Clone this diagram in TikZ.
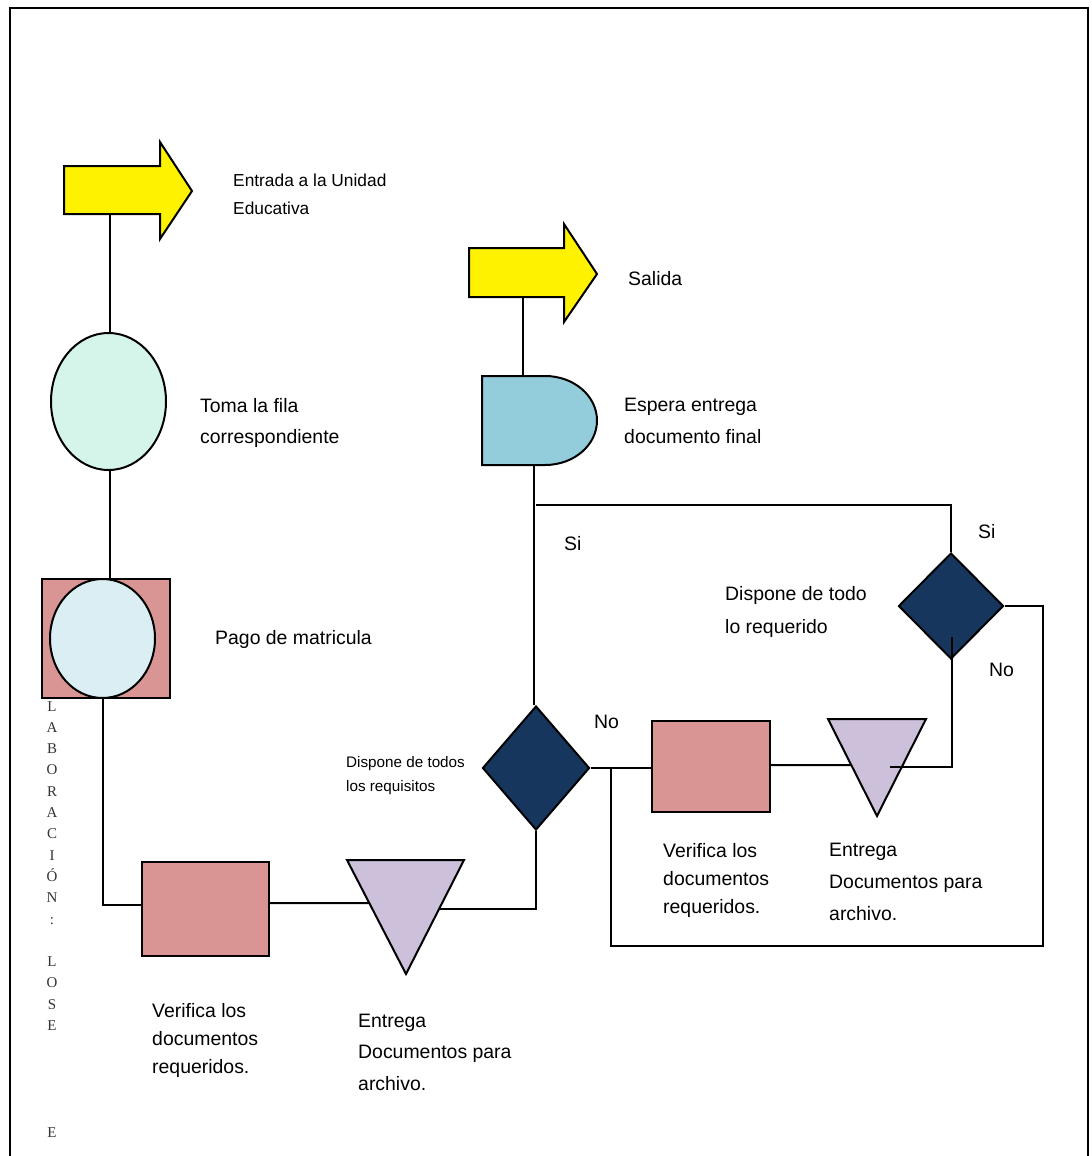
\documentclass[tikz,border=0pt]{standalone}
\usepackage{fontspec}
\setmainfont{Liberation Sans}
\newfontfamily\vserif{Liberation Serif}
\usetikzlibrary{shapes.geometric}
\pgfdeclarelayer{bg}
\pgfsetlayers{bg,main}
\definecolor{mint}{HTML}{D5F5EA}
\definecolor{pinkr}{HTML}{D99594}
\definecolor{lblue}{HTML}{DAEEF3}
\definecolor{aqua}{HTML}{93CDDC}
\definecolor{navy}{HTML}{17365D}
\definecolor{lav}{HTML}{CCC0DA}
\tikzset{
  conn/.style={line width=2bp, black},
  shp/.style={draw=black, line width=2bp, inner sep=0pt},
  lbl/.style={anchor=base west, align=left, inner sep=0pt, font=\fontsize{19.5}{28}\selectfont},
  vl/.style={anchor=base, inner sep=0pt, font=\vserif\fontsize{15}{16}\selectfont, text=black!80},
}
\begin{document}
\begin{tikzpicture}[x=1bp,y=-1bp]
\useasboundingbox (0,0) rectangle (1092,1156);
% frame
\draw[line width=2.6bp] (10,1170) -- (10,8) -- (1088,8) -- (1088,1170);

% arrows
\draw[shp, fill=yellow] (64,166) -- (160,166) -- (160,142) -- (192,191) -- (160,239) -- (160,214) -- (64,214) -- cycle;
\coordinate (a1b) at (110,214);
\draw[shp, fill=yellow] (469,248) -- (564,248) -- (564,224) -- (597,274) -- (564,322) -- (564,297) -- (469,297) -- cycle;
\coordinate (a2b) at (523,297);

% D shape
\draw[shp, fill=aqua] (482,376) -- (545,376) .. controls (574,376) and (597,396) .. (597,420.5) .. controls (597,445) and (574,465) .. (545,465) -- (482,465) -- cycle;
\coordinate (espT) at (523,376);
\coordinate (espB) at (534,465);

% nodes
\node[shp, ellipse, fill=mint, minimum width=115bp, minimum height=137bp] (toma) at (108.5,401.5) {};
\node[shp, rectangle, fill=pinkr, minimum width=128bp, minimum height=119bp] (pago) at (106,638.5) {};
\node[shp, ellipse, fill=lblue, minimum width=105bp, minimum height=119bp] (pagoe) at (102.5,638.5) {};
\node[shp, rectangle, fill=pinkr, minimum width=127bp, minimum height=94bp] (ver1) at (205.5,909) {};
\node[shp, rectangle, fill=pinkr, minimum width=118bp, minimum height=91bp] (ver2) at (711,766.5) {};
\node[shp, diamond, fill=navy, minimum width=107bp, minimum height=124bp] (d1) at (536,768) {};
\node[shp, diamond, fill=navy, minimum width=105bp, minimum height=106bp] (d2) at (951,606) {};

% triangles
\draw[shp, fill=lav] (347,860) -- (464,860) -- (406,974) -- cycle;
\coordinate (t1c) at (406,903);
\coordinate (t1r) at (420,909);
\draw[shp, fill=lav] (828,719) -- (926,719) -- (877,816) -- cycle;
\coordinate (t2c) at (877,765);
\coordinate (t2r) at (890,767);

\coordinate (j1) at (536,505);
\coordinate (j2) at (611,768);
\coordinate (jc) at (1043,946);
\coordinate (d2in) at (952,637);

% connectors
\begin{pgfonlayer}{bg}
\draw[conn] (a1b) -- (a1b |- toma.north);
\draw[conn] (toma.south -| a1b) -- (pago.north -| a1b);
\draw[conn] (pagoe.south) |- ([yshift=4bp]ver1.west);
\draw[conn] ([yshift=6bp]ver1.east) -- (t1c);
\draw[conn] (t1r) -| (d1.south);
\draw[conn] (espB) -- (espB |- d1.north);
\draw[conn] (j1) -| (d2.north);
\draw[conn] (d1.east) -- (d1.east -| ver2.west);
\draw[conn] (j2) |- (jc) |- (d2.east);
\draw[conn] ([yshift=1.5bp]ver2.east) -- (t2c);
\draw[conn] (a2b) -- (espT);
\end{pgfonlayer}
\draw[conn] (t2r) -| (d2in);

% labels (base = baseline of last line)
\node[lbl, font=\fontsize{17.4}{28}\selectfont] (tEnt) at (233,214) {Entrada a la Unidad\\Educativa};
\node[lbl] (tSal) at (628,285) {Salida};
\node[lbl, font=\fontsize{19.5}{31}\selectfont] (tToma) at (200,443) {Toma la fila\\correspondiente};
\node[lbl, font=\fontsize{19.5}{32}\selectfont] (tEsp) at (624,443) {Espera entrega\\documento final};
\node[lbl] (tSi1) at (564,550) {Si};
\node[lbl] (tSi2) at (978,538) {Si};
\node[lbl, font=\fontsize{19.5}{33}\selectfont] (tDisp2) at (725,633) {Dispone de todo\\lo requerido};
\node[lbl] (tPago) at (215,644) {Pago de matricula};
\node[lbl] (tNo2) at (989,676) {No};
\node[lbl] (tNo1) at (594,728) {No};
\node[lbl, font=\fontsize{15.3}{24}\selectfont] (tDisp1) at (346,791) {Dispone de todos\\los requisitos};
\node[lbl] (tVer2) at (663,913) {Verifica los\\documentos\\requeridos.};
\node[lbl, font=\fontsize{19.5}{32}\selectfont] (tEnt2) at (829,920) {Entrega\\Documentos para\\archivo.};
\node[lbl] (tVer1) at (152,1073) {Verifica los\\documentos\\requeridos.};
\node[lbl, font=\fontsize{19.5}{31.5}\selectfont] (tEnt1) at (358,1090) {Entrega\\Documentos para\\archivo.};

% vertical letters
\foreach \ch/\k in {L/0,A/1,B/2,O/3,R/4,A/5,C/6,I/7,Ó/8,N/9,:/10,L/12,O/13,S/14,E/15,E/20}
  \node[vl] (v\k) at (52,{711+21.3*\k}) {\ch};
\end{tikzpicture}
\end{document}
